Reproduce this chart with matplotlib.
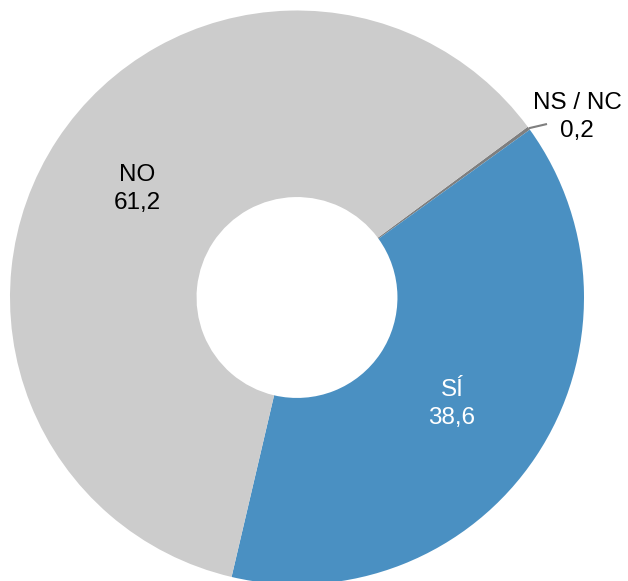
import matplotlib
matplotlib.use("Agg")
import matplotlib.pyplot as plt
import numpy as np

labels = ["NS / NC", "SÍ", "NO"]
values = [0.2, 38.6, 61.2]
colors = ["#7f7f7f", "#4a90c2", "#cccccc"]
text_colors = ["black", "white", "black"]

plt.rcParams['font.family'] = ['Liberation Sans', 'DejaVu Sans']

fig = plt.figure(figsize=(6.28, 5.81), dpi=100)
ax = fig.add_axes([0, 0, 1, 1])
ax.axis('off')

start = 36.5
wedges, _ = ax.pie(values, colors=colors, startangle=start, counterclock=False,
                   radius=1.0, wedgeprops=dict(width=0.65, linewidth=0))
cx, cy, R = 297.0, 297.5, 287.0
ax.set_xlim(-cx / R, (628 - cx) / R)
ax.set_ylim(-(581 - cy) / R, cy / R)
ax.set_aspect('equal')

def fmt(v):
    return f"{v:.1f}".replace('.', ',')

def px(x, y):
    return (x - cx) / R, (cy - y) / R

label_pos = [px(577, 117), px(452, 404), px(137, 189)]
for lab, v, tc, (x, y) in zip(labels, values, text_colors, label_pos):
    ax.text(x, y, f"{lab}\n{fmt(v)}", ha='center', va='center', fontsize=17.5,
            color=tc, linespacing=1.32)

# leader line for the small slice
w = wedges[0]
mid = np.deg2rad((w.theta1 + w.theta2) / 2)
x0, y0 = np.cos(mid), np.sin(mid)
x1, y1 = px(547, 124)
ax.plot([x0, x1], [y0, y1], color="#7f7f7f", lw=1.5, solid_capstyle='butt')

fig.savefig("out.png", dpi=100)
